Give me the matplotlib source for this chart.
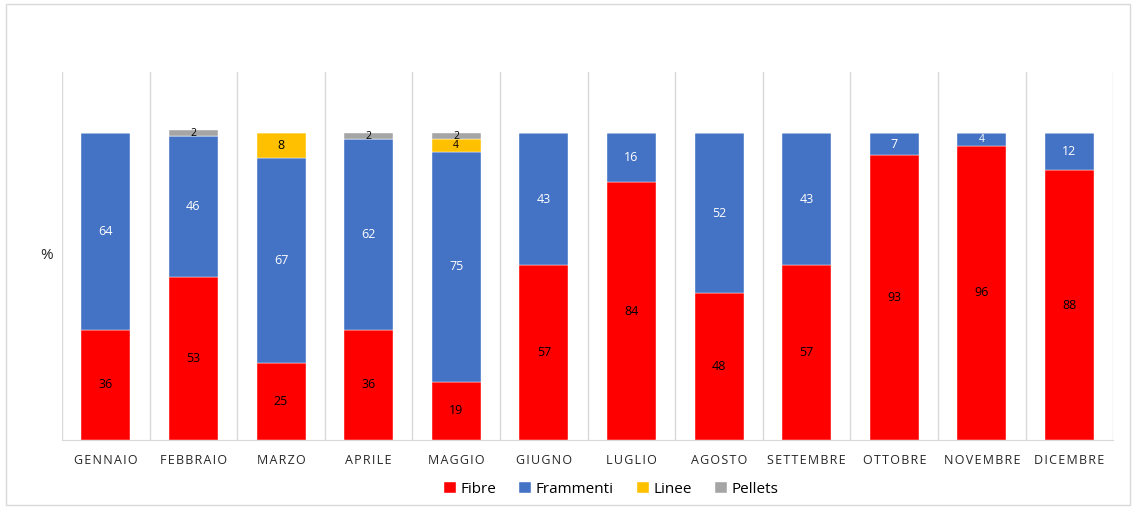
import numpy as np
import matplotlib.pyplot as plt
from matplotlib.patches import Rectangle

plt.rcParams['font.family'] = ['Open Sans', 'DejaVu Sans']

mesi = ['GENNAIO', 'FEBBRAIO', 'MARZO', 'APRILE', 'MAGGIO', 'GIUGNO',
        'LUGLIO', 'AGOSTO', 'SETTEMBRE', 'OTTOBRE', 'NOVEMBRE', 'DICEMBRE']
fibre = [36, 53, 25, 36, 19, 57, 84, 48, 57, 93, 96, 88]
frammenti = [64, 46, 67, 62, 75, 43, 16, 52, 43, 7, 4, 12]
linee = [0, 0, 8, 0, 4, 0, 0, 0, 0, 0, 0, 0]
pellets = [0, 2, 0, 2, 2, 0, 0, 0, 0, 0, 0, 0]

serie = [('Fibre', fibre, '#FF0000', 'black'),
         ('Frammenti', frammenti, '#4472C4', 'white'),
         ('Linee', linee, '#FFC000', 'black'),
         ('Pellets', pellets, '#A5A5A5', 'black')]

fig = plt.figure(figsize=(11.36, 5.08), dpi=100)
ax = fig.add_axes([0.0546, 0.1339, 0.9254, 0.7244])

x = np.arange(len(mesi))
bottom = np.zeros(len(mesi))
for nome, valori, colore, col_testo in serie:
    valori = np.array(valori, dtype=float)
    ax.bar(x, valori, width=0.56, bottom=bottom, color=colore, label=nome,
           edgecolor='white', linewidth=0.3, zorder=3)
    for xi, b, v in zip(x, bottom, valori):
        if v > 0:
            # etichette piccole un po' ristrette per non sovrapporsi
            fs = 7.5 if v < 5 else 9
            ax.text(xi, b + v / 2, f'{v:.0f}', ha='center', va='center',
                    fontsize=fs, color=col_testo, zorder=4)
    bottom += valori

ax.set_xlim(-0.5, len(mesi) - 0.5)
ax.set_ylim(0, 120)
ax.set_yticks([])
ax.set_xticks(x)
# spaziatura tra le lettere con hair space
ax.set_xticklabels(['\u200a'.join(m) for m in mesi], fontsize=9, color='#262626')
ax.tick_params(axis='x', length=0, pad=10)

# linee verticali tra i mesi
for b in np.arange(-0.5, len(mesi) + 0.5, 1):
    ax.axvline(b, color='#D9D9D9', linewidth=1, zorder=1)

for s in ['top', 'right', 'left']:
    ax.spines[s].set_visible(False)
ax.spines['bottom'].set_color('#D9D9D9')

ax.set_ylabel('%', rotation=0, fontsize=11, color='#262626', labelpad=10)
ax.yaxis.set_label_coords(-0.015, 0.48)

fig.legend(loc='center', bbox_to_anchor=(0.538, 0.037), ncol=4, frameon=False,
           fontsize=11, handlelength=0.8, handleheight=0.8, handletextpad=0.3,
           columnspacing=1.5)

fig.add_artist(Rectangle((0.005, 0.006), 0.99, 0.987, transform=fig.transFigure,
                         fill=False, edgecolor='#D9D9D9', linewidth=1))

fig.savefig('out.png', dpi=100)
